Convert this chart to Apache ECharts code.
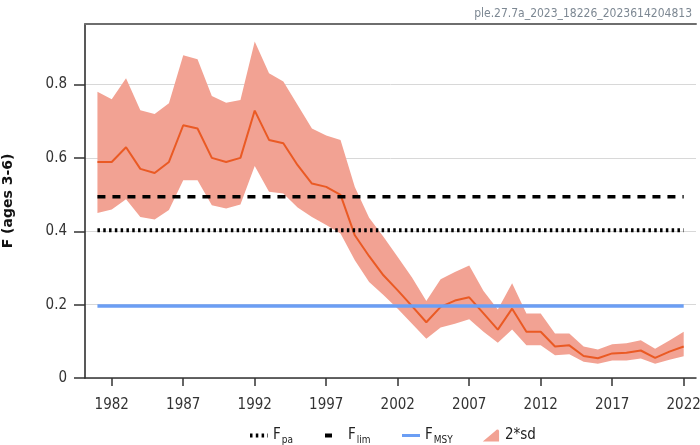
<!DOCTYPE html>
<html>
<head>
<meta charset="utf-8">
<script src="https://cdn.jsdelivr.net/npm/echarts@6/dist/echarts.min.js"></script>
<style>
html,body{margin:0;padding:0;background:#fff;}
#chart{width:700px;height:445px;}
</style>
</head>
<body>
<div id="chart"></div>
<script>
// ---- data ----
var years = [1981,1982,1983,1984,1985,1986,1987,1988,1989,1990,1991,1992,1993,1994,1995,1996,1997,1998,1999,2000,2001,2002,2003,2004,2005,2006,2007,2008,2009,2010,2011,2012,2013,2014,2015,2016,2017,2018,2019,2020,2021,2022];
var medianF = [0.589,0.589,0.629,0.570,0.559,0.589,0.689,0.680,0.600,0.589,0.600,0.729,0.649,0.640,0.580,0.530,0.521,0.499,0.389,0.332,0.280,0.239,0.196,0.152,0.194,0.211,0.220,0.176,0.132,0.189,0.126,0.126,0.086,0.089,0.060,0.054,0.067,0.069,0.075,0.055,0.072,0.086];
var upperF = [0.780,0.760,0.817,0.730,0.720,0.749,0.880,0.869,0.769,0.750,0.758,0.917,0.831,0.808,0.744,0.680,0.661,0.649,0.521,0.437,0.385,0.330,0.274,0.210,0.269,0.289,0.307,0.237,0.187,0.258,0.176,0.176,0.121,0.121,0.086,0.078,0.092,0.095,0.103,0.080,0.102,0.126];
var lowerF = [0.450,0.459,0.487,0.439,0.432,0.458,0.539,0.539,0.471,0.462,0.473,0.578,0.508,0.503,0.465,0.439,0.417,0.394,0.321,0.262,0.226,0.189,0.148,0.107,0.138,0.148,0.160,0.126,0.096,0.132,0.089,0.089,0.062,0.065,0.044,0.039,0.048,0.048,0.053,0.039,0.050,0.059];
var refYears = [1981, 2022];
var fpaValue = 0.403;
var flimValue = 0.494;
var fmsyValue = 0.196;
var xTicks = [1982,1987,1992,1997,2002,2007,2012,2017,2022];
var yTicks = [0,0.2,0.4,0.6,0.8];
var yTickLabels = ['0','0.2','0.4','0.6','0.8'];
var titleText = 'ple.27.7a_2023_18226_2023614204813';

// ---- styles ----
var FONT = "'DejaVu Sans Condensed','Liberation Sans Narrow','DejaVu Sans',sans-serif";
var bandColor = '#f2a293';
var lineColor = '#ea5a24';
var msyColor = '#6b9ef4';

function refData(v){ return refYears.map(function(y){ return [y, v]; }); }

var chart = echarts.init(document.getElementById('chart'), null, {renderer:'canvas'});
var option = {
  animation: false,
  backgroundColor: '#fff',
  title: {
    text: titleText, right: 3, top: 3,
    textStyle: {fontSize: 12, fontWeight: 'normal', color: '#7d8893', fontFamily: FONT}
  },
  grid: {left: 85, right: 4, top: 24, bottom: 67, containLabel: false, outerBoundsMode: 'none'},
  legend: {
    left: 243, top: 423,
    itemWidth: 18, itemHeight: 12, itemGap: 30,
    data: [
      {name: 'Fpa', itemStyle: {opacity: 0}, lineStyle: {type: [2.5, 3.3], width: 4, color: '#000'}},
      {name: 'Flim', itemStyle: {opacity: 0}, lineStyle: {type: [7, 30], width: 4, color: '#000'}},
      {name: 'FMSY', itemStyle: {opacity: 0}, lineStyle: {width: 3, color: msyColor}},
      {name: '2*sd', icon: 'path://M0,14 L13,3 Q16,0 17,3 L17,14 Z', itemStyle: {color: bandColor}}
    ],
    formatter: function(name){
      if (name === 'Fpa') return '{m|F}{s|pa}';
      if (name === 'Flim') return '{m|F}{s|lim}';
      if (name === 'FMSY') return '{m|F}{s|MSY}';
      return '{m|' + name + '}';
    },
    textStyle: {
      fontFamily: FONT, color: '#222',
      rich: {
        m: {fontSize: 15, fontFamily: FONT, color: '#222'},
        s: {fontSize: 10, fontFamily: FONT, color: '#222', padding: [10, 0, 0, 1]}
      }
    }
  },
  xAxis: [{
    type: 'value', min: 1980.13, max: 2022.86, position: 'bottom',
    axisLine: {show: true, onZero: false, lineStyle: {color: '#333', width: 1.5}},
    axisTick: {show: true, length: 8, customValues: xTicks, lineStyle: {color: '#333', width: 1.5}},
    axisLabel: {customValues: xTicks, margin: 20, fontSize: 15, color: '#333', fontFamily: FONT,
      formatter: function(v){ return String(v); }},
    splitLine: {show: false}
  }, {
    type: 'value', min: 1980.13, max: 2022.86, position: 'top',
    axisLine: {show: true, onZero: false, lineStyle: {color: '#6e6e6e', width: 2}},
    axisTick: {show: false}, axisLabel: {show: false}, splitLine: {show: false}
  }],
  yAxis: {
    type: 'value', min: 0, max: 0.965, interval: 0.2,
    name: 'F (ages 3-6)', nameLocation: 'middle', nameGap: 70,
    nameTextStyle: {fontSize: 14, fontWeight: 'bold', color: '#111', fontFamily: "'DejaVu Sans',sans-serif"},
    axisLine: {show: true, onZero: false, lineStyle: {color: '#222', width: 1.5}},
    axisTick: {show: true, length: 11, customValues: yTicks, lineStyle: {color: '#333', width: 1.5}},
    axisLabel: {customValues: yTicks, margin: 18, fontSize: 15, color: '#333', fontFamily: FONT,
      formatter: function(v){ var i = yTicks.indexOf(v); return i >= 0 ? yTickLabels[i] : ''; }},
    splitLine: {show: true, lineStyle: {color: '#d8d8d8', width: 1}}
  },
  series: [
    {
      name: '2*sd', type: 'custom', z: 1, silent: true,
      itemStyle: {color: bandColor},
      data: years.map(function(y, i){ return [y, lowerF[i], upperF[i]]; }),
      encode: {x: 0, y: [1, 2]},
      renderItem: function(params, api){
        if (params.dataIndex !== 0) return null;
        var pts = [];
        for (var i = 0; i < years.length; i++) pts.push(api.coord([years[i], upperF[i]]));
        for (var j = years.length - 1; j >= 0; j--) pts.push(api.coord([years[j], lowerF[j]]));
        return {type: 'polygon', shape: {points: pts}, style: {fill: bandColor}};
      }
    },
    {
      name: 'F', type: 'line', z: 3, symbol: 'none', silent: true,
      data: years.map(function(y, i){ return [y, medianF[i]]; }),
      lineStyle: {color: lineColor, width: 2}, itemStyle: {color: lineColor}
    },
    {
      name: 'Fpa', type: 'line', z: 4, symbol: 'none', silent: true,
      data: refData(fpaValue),
      lineStyle: {color: '#000', width: 4, type: [2.5, 3.3]}, itemStyle: {color: '#000'}
    },
    {
      name: 'Flim', type: 'line', z: 4, symbol: 'none', silent: true,
      data: refData(flimValue),
      lineStyle: {color: '#000', width: 3.5, type: [8, 7]}, itemStyle: {color: '#000'}
    },
    {
      name: 'FMSY', type: 'line', z: 4, symbol: 'none', silent: true,
      data: refData(fmsyValue),
      lineStyle: {color: msyColor, width: 3.5}, itemStyle: {color: msyColor}
    }
  ]
};
chart.setOption(option);
</script>
</body>
</html>
